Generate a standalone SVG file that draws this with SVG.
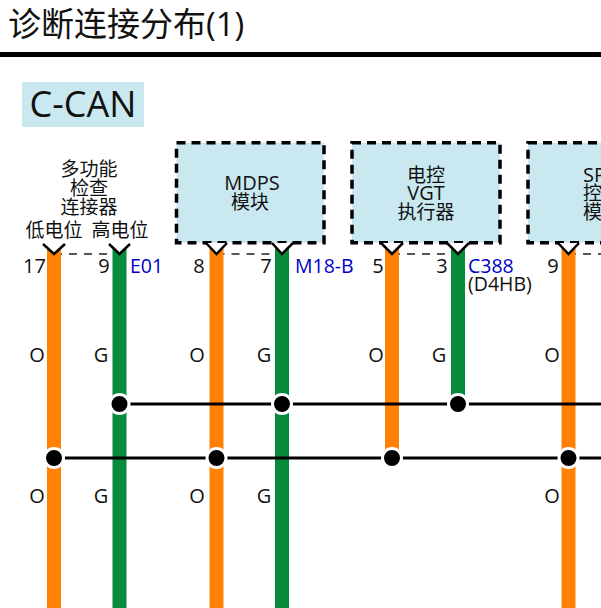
<svg xmlns="http://www.w3.org/2000/svg" width="601" height="608" viewBox="0 0 601 608">
<style>
text{font-family:"Open Sans","Noto Sans CJK SC",sans-serif;fill:#111}
.t{font-size:19px;text-anchor:middle}
.l{font-size:20px;text-anchor:middle}
.n{font-size:20px;text-anchor:middle}
.b{font-size:19.500px;fill:#0000c8}
.box{fill:#c9e8f0;stroke:#000;stroke-width:3.500;stroke-dasharray:9 6}
.o{stroke:#ff8205;stroke-width:14;fill:none}
.g{stroke:#078a3c;stroke-width:14;fill:none}
.bus{stroke:#000;stroke-width:3;fill:none}
.dot{fill:#000;stroke:#fff;stroke-width:3}
.tick{fill:#fff;stroke:#000;stroke-width:2.500}
.dash{stroke:#222;stroke-width:1.500;stroke-dasharray:8 7;fill:none}
</style>
<g id="title">
<text x="8" y="36" style="font-size:33px">诊断连接分布(1)</text>
<rect x="0" y="52" width="601" height="5" fill="#000"/>
</g>
<g id="section">
<rect x="22" y="82" width="122" height="45" fill="#c9e8f0"/>
<text x="83" y="117" style="font-size:36px;text-anchor:middle">C-CAN</text>
</g>
<g id="node-e01">
<text class="t" x="89" y="176">多功能</text>
<text class="t" x="89" y="195">检查</text>
<text class="t" x="89" y="214">连接器</text>
<text class="t" x="54" y="237">低电位</text>
<text class="t" x="120" y="237">高电位</text>
</g>
<g id="node-mdps">
<rect class="box" x="176.500" y="142.700" width="147.500" height="100"/>
<text class="l" x="252" y="190">MDPS</text>
<text class="t" x="250" y="209">模块</text>
</g>
<g id="node-vgt">
<rect class="box" x="352" y="142.700" width="148" height="100"/>
<text class="t" x="426" y="182">电控</text>
<text class="l" x="426" y="200">VGT</text>
<text class="t" x="426" y="219">执行器</text>
</g>
<g id="node-sp">
<rect class="box" x="528" y="142.700" width="148" height="100"/>
<text class="l" x="583" y="182" style="text-anchor:start">SP</text>
<text class="t" x="583" y="200" style="text-anchor:start">控</text>
<text class="t" x="583" y="219" style="text-anchor:start">模</text>
</g>
<g id="connectors">
<path class="dash" d="M54 254H119M216.500 254H282M392 254H458M568 254H601"/>
<path class="o" d="M54 248V608M216.500 248V608M392 248V458M568.500 248V608"/>
<path class="g" d="M119.500 248V608M282 248V608M458 248V404"/>
<path class="tick" d="M43 244L54 254L65 244"/>
<path class="tick" d="M109 244L119.500 254L130 244"/>
<path class="tick" d="M206 243L216.500 254L227 243"/>
<path class="tick" d="M272 243L282 254L293 243"/>
<path class="tick" d="M381 243L392 254L403 243"/>
<path class="tick" d="M447 243L458 254L469 243"/>
<path class="tick" d="M558 243L568.500 254L579 243"/>
<path class="bus" d="M119.500 404H601M54 458H601"/>
<g id="junctions">
<circle class="dot" cx="119.500" cy="404" r="9.500"/>
<circle class="dot" cx="282" cy="404" r="9.500"/>
<circle class="dot" cx="458" cy="404" r="9.500"/>
<circle class="dot" cx="54" cy="458" r="9.500"/>
<circle class="dot" cx="216.500" cy="458" r="9.500"/>
<circle class="dot" cx="392" cy="458" r="9.500"/>
<circle class="dot" cx="568.500" cy="458" r="9.500"/>
</g>
</g>
<g id="pin-labels">
<text class="n" x="34.500" y="272.500">17</text>
<text class="n" x="104" y="272.500">9</text>
<text class="n" x="199" y="272.500">8</text>
<text class="n" x="266" y="272.500">7</text>
<text class="n" x="378" y="272.500">5</text>
<text class="n" x="442" y="272.500">3</text>
<text class="n" x="553" y="272.500">9</text>
<text class="b" x="130" y="272.500">E01</text>
<text class="b" x="295" y="272.500">M18-B</text>
<text class="b" x="468" y="272.500">C388</text>
<text x="468" y="291" style="font-size:19.500px">(D4HB)</text>
</g>
<g id="wire-labels">
<text class="n" x="37" y="362">O</text><text class="n" x="101" y="362">G</text><text class="n" x="197" y="362">O</text><text class="n" x="264" y="362">G</text><text class="n" x="376" y="362">O</text><text class="n" x="439" y="362">G</text><text class="n" x="552" y="362">O</text>
<text class="n" x="37" y="503">O</text><text class="n" x="101" y="503">G</text><text class="n" x="197" y="503">O</text><text class="n" x="264" y="503">G</text><text class="n" x="552" y="503">O</text>
</g>
</svg>
